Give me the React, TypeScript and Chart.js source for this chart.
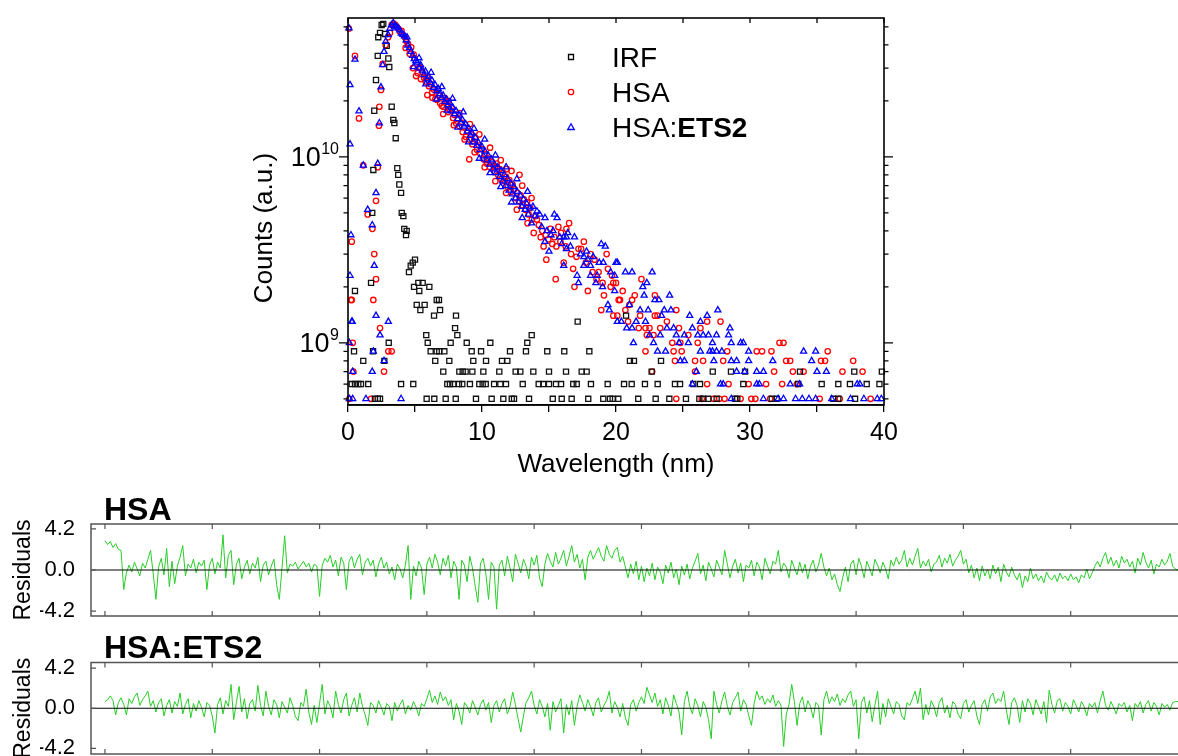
import React, { useEffect, useRef } from 'react';
import { Chart, registerables } from 'chart.js';
Chart.register(...registerables);

const W = 1178;
const H = 756;
const FONT = '"Liberation Sans", Arial, Helvetica, sans-serif';
const COUNT_UNIT = 1e8;

// [time, counts / 1e8]
const irfPoints: [number, number][] = [
  [0.28,6],[0.45,9],[0.52,6],[0.52,19],[0.77,6],[0.97,6],[1.14,8],[1.51,6],[1.72,21],[1.81,50],[1.87,9],[1.89,85],[1.96,177],[2.01,5],[2.09,259],[2.22,5],[2.22,349],[2.26,440],[2.39,464],[2.39,5],[2.51,512],[2.63,519],[2.71,8],[2.76,458],[2.89,395],[3.01,338],[3.04,10],[3.08,304],[3.26,186],[3.38,158],[3.46,152],[3.56,126],[3.68,87],[3.75,80],[3.83,71],[3.96,64],[3.96,6],[4.01,50],[4.13,48],[4.2,41],[4.33,38],[4.38,40],[4.55,24],[4.68,26],[4.83,27],[4.87,6],[4.93,20],[5.0,28],[5.13,16],[5.25,21],[5.32,19],[5.4,15],[5.57,21],[5.72,16],[5.84,11],[5.87,5],[5.95,10],[6.07,20],[6.17,9],[6.42,14],[6.44,5],[6.51,8],[6.62,17],[6.62,9],[6.79,17],[6.81,9],[6.87,15],[7.11,7],[7.19,9],[7.29,5],[7.41,6],[7.56,8],[7.61,6],[7.66,10],[7.86,6],[7.99,12],[8.04,5],[8.06,14],[8.16,11],[8.28,6],[8.31,7],[8.53,6],[8.56,7],[8.78,7],[8.86,10],[9.1,6],[9.23,9],[9.28,7],[9.35,8],[9.55,5],[9.8,6],[9.93,9],[10.05,6],[10.1,7],[10.28,6],[10.3,8],[10.62,10],[10.72,5],[10.9,6],[11.29,7],[11.37,6],[11.49,8],[11.59,5],[11.79,6],[11.89,8],[12.09,9],[12.22,5],[12.39,5],[12.51,7],[12.86,7],[13.04,6],[13.28,9],[13.38,10],[13.51,5],[13.71,11],[13.83,7],[14.23,6],[14.57,6],[14.87,9],[15.0,7],[15.0,6],[15.28,5],[15.52,6],[15.9,6],[15.95,5],[16.14,9],[16.27,7],[16.69,5],[16.81,6],[17.07,6],[17.14,13],[17.44,7],[17.81,7],[17.93,5],[18.01,9],[18.13,6],[19.05,5],[19.38,6],[19.55,5],[19.75,5],[20.17,5],[20.6,6],[20.75,14],[21.04,8],[21.17,6],[21.34,8],[21.66,5],[22.16,6],[22.66,7],[22.96,5],[23.11,6],[23.36,8],[23.98,5],[24.4,6],[24.78,6],[25.22,5],[25.77,6],[26.22,5],[26.27,6],[26.51,5],[26.89,5],[27.22,7],[27.51,5],[28.58,7],[28.88,5],[29.05,5],[29.5,6],[29.63,7],[31.62,5],[31.99,5],[33.6,6],[33.73,7],[35.35,6],[36.22,5],[36.59,6],[36.59,5],[37.46,6],[37.78,7],[37.84,5],[38.71,6],[39.66,6],[39.84,7]
];

const hsaPoints: [number, number][] = [
  [0.07,490],[0.52,349],[0.82,161],[0.28,35],[0.22,17],[0.35,10],[0.4,7],[0.1,5],[1.14,90],[1.47,49],[1.82,41],[1.96,30],[2.09,22],[2.39,12],[2.69,7],[3.01,9],[3.26,9],[1.72,5],[1.89,17],[0.28,17],
  [2.09,58],[2.22,88],[2.31,147],[2.34,186],[2.46,229],[2.59,316],[2.81,400],[2.99,440],[3.13,464],[3.26,512],
  [3.40,520],[3.52,512],[3.64,500],[3.76,488],[3.88,470],[4.00,476],[4.12,452],[4.24,440],[4.36,418],[4.48,405],[4.60,358],[4.72,388],[4.84,300],[4.96,340],[5.08,272],[5.20,282],[5.32,305],[5.44,262],[5.56,285],[5.68,266],[5.80,254],[5.92,215],[6.04,240],[6.16,246],[6.28,222],[6.40,230],[6.52,205],[6.64,203],[6.76,214],[6.88,194],[7.00,188],[7.12,186],[7.24,207],[7.36,192],[7.48,174],[7.60,179],[7.72,184],[7.84,162],[7.96,168],[8.08,151],[8.20,160],[8.32,146],[8.44,153],[8.56,136],[8.68,144],[8.80,128],[8.92,138],[9.04,124],[9.16,132],[9.28,117],[9.40,121],[9.52,126],[9.64,109],[9.76,115],[9.88,104],[10.00,110],[10.12,97],[10.24,103],[10.36,92],[10.48,98],[10.60,88],[10.72,94],[10.84,90],[10.96,83],[11.08,88],[11.20,80],[11.32,86],[11.44,76],[11.56,82],[11.68,74],[11.80,78],[11.92,69],[12.04,75],[12.16,65],[12.28,71],[12.40,67],[12.52,60],[12.64,64],[12.76,58],[12.88,62],[13.00,55],[13.12,59],[13.24,52],[13.36,57],[13.48,49],[13.60,53],[13.72,46],
  [4.3,385],[4.9,355],[5.4,300],[5.9,268],[6.3,208],[6.7,232],[7.1,170],[7.5,200],[7.9,148],[8.3,172],[8.7,124],[9.05,97],[9.1,150],[9.45,106],[9.8,132],[10.2,88],[10.35,96],[10.6,112],[11.0,74],[11.1,92],[11.4,96],[11.8,64],[11.85,86],[12.2,84],[12.6,52],[12.8,80],[13.0,70],[13.4,44],[13.7,60],
  [13.86,39],[13.98,48],[14.1,46],[14.24,43],[14.38,37],[14.5,40],[14.6,33],[14.75,38],[14.8,28],[14.95,36],[15.1,41],[15.25,34],[15.4,37],[15.5,22],[15.55,33],[15.7,42],[15.85,35],[15.9,39],[16.1,27],[16.25,33],[16.3,41],[16.5,44],[16.65,30],[16.8,25],[16.9,20],[17.05,29],[17.2,32],[17.4,32],[17.6,35],[17.75,27],[17.9,19],[18.1,30],[18.25,24],[18.4,28],[18.55,22],[18.7,24],[18.9,15],[19.0,21],[19.1,18],[19.3,30],[19.4,25],[19.6,20],[19.7,23],[19.8,21],[19.8,14],[20.0,21],
  [20.2,17],[20.3,17],[21.2,17],[20.7,15],[24.5,15],[20.1,14],[21.8,14],[22.9,14],[23.1,14],[22.9,18],[21.9,22],[20.5,19],[21.0,16],[21.4,18],[20.9,13],
  [23.8,13],[26.8,13],[27.8,13],[21.7,12],[22.2,12],[22.5,12],[23.3,12],[24.7,12],[26.3,12],[22.3,11],[22.8,11],[25.4,11],
  [24.2,10],[24.8,10],[26.1,10],[32.2,10],[32.5,10],[22.2,9],[24.3,9],[24.9,9],[28.3,9],[30.5,9],[30.9,9],[31.6,9],[35.8,9],
  [24.4,8],[25.9,8],[26.5,8],[28.0,8],[32.7,8],[33.0,8],[35.3,8],[35.6,8],[37.7,8],[22.7,7],[25.9,7],[31.8,7],[33.2,7],[34.0,7],[36.9,7],[38.4,7],
  [26.8,6],[28.4,6],[29.9,6],[31.2,6],[32.4,6],[33.5,6],[24.5,5],[26.4,5],[27.3,5],[27.7,5],[28.1,5],[29.3,5],[30.1,5],[30.4,5],[31.5,5],[35.2,5],[36.7,5],[39.0,5]
];

const ets2Points: [number, number][] = [
  [0.07,492],[0.52,334],[0.82,176],[0.15,244],[0.15,117],[0.22,38],[0.15,23],[0.32,13],[0.28,13],[0.1,10],[0.35,7],[0.1,5],[0.35,5],[1.14,90],[1.47,52],[1.81,43],[1.96,26],[2.09,14],[2.39,11],[2.69,8],[3.01,13],[1.89,9],[1.81,7],[1.34,5],[3.96,5],
  [2.09,64],[2.22,92],[2.34,152],[2.46,237],[2.59,312],[2.69,368],[2.81,417],[3.00,453],[3.12,490],[3.25,512],
  [3.38,526],[3.50,505],[3.62,498],[3.74,492],[3.86,480],[3.98,462],[4.10,455],[4.22,446],[4.34,425],[4.46,398],[4.58,385],[4.70,368],[4.82,350],[4.94,336],[5.06,328],[5.18,322],[5.30,300],[5.42,312],[5.54,292],[5.66,276],[5.78,288],[5.90,262],[6.02,270],[6.14,250],[6.26,258],[6.38,236],[6.50,244],[6.62,226],[6.74,232],[6.86,218],[6.98,208],[7.10,214],[7.22,198],[7.34,204],[7.46,190],[7.58,196],[7.70,176],[7.82,184],[7.94,170],[8.06,177],[8.18,160],[8.30,167],[8.42,152],[8.54,158],[8.66,146],[8.78,150],[8.90,137],[9.02,142],[9.14,130],[9.26,134],[9.38,120],[9.50,127],[9.62,115],[9.74,119],[9.86,109],[9.98,114],[10.10,101],[10.22,107],[10.34,96],[10.46,102],[10.58,91],[10.70,97],[10.82,86],[10.94,91],[11.06,82],[11.18,88],[11.30,78],[11.42,84],[11.54,74],[11.66,80],[11.78,70],[11.90,76],[12.02,66],[12.14,72],[12.26,63],[12.38,69],[12.50,60],[12.62,65],[12.74,57],[12.86,62],[12.98,54],[13.10,59],[13.22,52],[13.34,56],[13.46,49],[13.58,53],
  [4.4,440],[4.9,305],[5.3,340],[5.8,246],[6.2,284],[6.6,204],[7.0,238],[7.4,178],[7.8,206],[8.2,144],[8.6,174],[9.0,120],[9.4,142],[9.8,98],[10.2,124],[10.6,82],[11.0,102],[11.4,69],[11.8,88],[12.2,57],[12.6,76],[13.0,47],[13.4,65],[13.8,54],
  [13.7,44],[13.95,48],[14.1,51],[14.3,49],[14.45,42],[14.7,47],[14.7,35],[14.85,40],[15.0,31],[15.15,38],[15.3,40],[15.4,49],[15.6,47],[15.8,37],[15.95,34],[16.1,37],[16.1,26],[16.3,37],[16.3,32],[16.4,39],[16.6,33],[16.9,37],[17.1,23],[17.2,21],[17.35,30],[17.6,29],[17.6,26],[17.8,31],[17.9,28],[18.1,26],[18.1,23],[18.3,29],[18.5,21],[18.6,23],[18.75,27],[18.9,34],[19.0,20],[19.05,27],[19.2,33],[19.4,16],[19.5,15],[19.6,24],[19.9,19],[19.9,23],[20.0,27],[20.1,27],
  [20.7,24],[21.2,24],[22.7,24],[22.3,21],[22.0,20],[22.1,18],[24.0,18],[22.9,17],[23.2,17],[21.0,16],[21.8,15],[22.4,15],[23.6,15],[24.1,15],[27.6,15],[23.4,14],[25.5,14],[26.8,14],
  [20.1,13],[20.4,13],[21.5,13],[22.2,13],[26.3,13],[20.8,12],[21.2,12],[23.8,12],[24.3,12],[25.7,12],[28.5,12],
  [22.5,11],[23.3,11],[24.5,11],[25.1,11],[26.1,11],[26.5,11],[26.9,11],[27.5,11],[28.4,11],[21.3,10],[22.8,10],[24.7,10],[25.4,10],[27.2,10],[28.6,10],[29.3,10],[29.5,10],
  [23.1,9],[23.7,9],[26.3,9],[27.0,9],[27.2,9],[27.5,9],[27.9,9],[29.9,9],[34.0,9],[34.9,9],[24.8,8],[25.1,8],[27.3,8],[28.6,8],[29.0,8],[29.9,8],[31.7,8],[34.6,8],
  [26.0,7],[29.0,7],[29.6,7],[30.5,7],[31.0,7],[35.0,7],[35.7,7],[25.7,6],[27.8,6],[28.0,6],[30.5,6],[30.7,6],[33.0,6],[33.7,6],[38.0,6],[38.2,6],
  [28.6,5],[31.0,5],[32.1,5],[32.5,5],[33.4,5],[33.9,5],[34.4,5],[34.9,5],[36.1,5],[37.5,5],[38.5,5],[39.5,5],[39.8,5]
];

const RES_STEP = 0.125;
const hsaResiduals: number[] = [
  3.0,2.6,2.9,2.3,2.7,2.1,2.0,-2.0,-0.3,0.5,-0.2,0.8,0.1,-0.6,0.7,0.2,1.1,2.0,-0.4,-3.0,
  0.3,1.2,-0.5,2.2,-1.7,0.9,-1.4,0.4,1.3,2.5,-0.6,0.6,0.2,1.1,-0.3,0.8,0.4,1.0,-2.0,0.5,
  1.2,-0.4,0.8,0.2,3.6,-0.8,1.5,2.0,-1.5,0.6,1.2,-0.9,0.3,1.0,-0.4,0.7,0.2,1.3,-1.2,0.5,
  0.9,-0.5,0.4,1.1,-1.5,-3.0,0.2,3.5,-0.3,0.6,0.4,0.8,0.1,0.5,0.9,0.3,0.7,-0.2,0.6,0.4,
  -2.7,0.5,1.2,0.8,1.5,0.3,1.0,-0.6,1.3,0.7,-2.0,0.9,1.4,0.2,1.1,1.6,-0.5,0.8,1.2,0.4,
  1.0,-0.7,0.6,1.3,0.2,0.8,-0.4,0.3,-1.0,0.6,0.1,-0.8,0.5,2.5,-3.0,0.4,-0.6,0.9,0.2,-2.5,
  0.6,1.3,0.2,1.6,0.8,-0.5,1.2,0.4,1.5,-0.8,0.9,0.3,-3.0,1.0,0.5,-1.2,1.4,0.2,-1.6,-3.3,
  0.7,1.2,-0.4,-3.0,0.8,0.3,-4.0,0.5,1.0,-0.6,1.4,0.2,-1.2,1.6,0.7,-0.3,1.1,0.4,-0.9,1.3,
  0.5,1.5,-0.8,-1.7,0.6,1.7,0.9,0.3,1.8,0.6,1.2,2.0,0.4,1.4,2.5,0.8,1.6,0.2,1.1,-1.0,
  1.3,2.0,1.1,1.7,2.3,1.4,0.9,2.5,1.6,1.2,2.0,2.3,0.8,1.4,0.3,-0.8,0.6,-0.4,0.9,-1.0,
  0.4,-1.2,0.2,-0.6,0.7,-1.0,0.3,-0.2,-1.4,0.5,-0.3,0.8,-0.8,0.1,-1.5,0.4,-0.5,0.6,-0.9,0.2,
  0.9,1.7,-0.4,0.5,-1.1,0.8,0.1,-0.7,1.0,0.3,-0.5,2.0,0.6,-0.8,0.4,1.1,-0.3,0.7,-1.2,0.5,
  0.2,1.0,-0.6,0.8,0.3,-1.0,1.2,0.4,-0.4,0.9,0.6,2.0,-0.2,0.7,0.3,-0.8,1.0,0.2,-0.5,0.8,
  -0.3,0.6,-0.9,0.4,1.0,-0.2,0.5,1.7,0.3,-0.6,0.2,-1.0,-0.4,-1.5,-2.2,-0.8,0.3,-1.2,0.6,1.0,
  -0.5,1.2,0.4,-0.8,0.9,0.2,-0.6,1.1,0.5,-0.3,0.8,0.1,-0.9,1.0,0.4,1.3,0.6,1.0,2.0,0.3,
  1.2,0.5,1.4,2.2,0.2,0.9,0.4,1.1,-0.2,0.6,0.8,1.5,0.3,1.2,0.7,1.6,0.4,1.0,1.4,2.0,
  0.6,1.1,-0.3,0.5,-0.8,0.2,-1.1,0.4,-0.6,0.1,-0.9,0.5,-0.4,0.3,-1.2,0.6,-0.2,-0.7,0.3,-0.5,
  -1.0,-0.3,-1.8,-0.6,-1.2,0.2,-0.9,-0.4,-1.1,-0.6,-1.3,-0.2,-0.8,-1.0,-0.5,-1.2,-0.3,-0.9,-0.6,-1.1,
  -0.4,-1.0,-0.7,-1.3,-0.5,-0.8,0.1,-0.9,-0.3,0.4,0.9,0.3,1.2,1.8,0.6,1.3,0.4,1.0,0.2,1.4,
  0.7,1.1,0.3,0.9,-0.3,1.2,0.5,1.8,0.8,0.2,1.0,-0.4,0.6,0.3,1.1,0.5,0.9,1.7,0.4,0.1,
  0.0
];

const ets2Residuals: number[] = [
  0.7,0.9,1.3,0.8,-0.7,0.6,1.1,0.4,-0.7,1.0,0.5,1.2,1.6,0.3,0.9,1.3,1.8,0.2,0.8,-0.4,
  0.6,1.0,-0.8,0.3,0.9,-0.5,0.7,0.2,1.6,-0.6,0.4,1.0,-1.0,0.5,-0.3,0.8,0.1,-0.9,0.6,0.3,
  -0.8,-2.6,0.4,1.1,-0.6,0.8,0.2,2.5,-1.2,0.6,2.3,-0.4,1.0,-1.1,0.5,0.9,-0.3,2.4,0.3,-0.8,
  1.8,0.2,-0.7,0.9,0.4,-1.0,0.7,0.1,-0.5,1.1,0.3,-0.9,-1.3,0.6,0.2,2.0,-0.4,-1.7,0.3,-1.5,
  0.5,2.5,-0.6,0.8,0.2,-1.0,1.8,0.4,-0.5,0.9,1.6,-0.8,0.3,1.1,-0.4,1.6,0.2,-0.7,-1.8,0.6,
  0.3,-0.5,0.8,0.1,-0.7,0.5,0.2,-1.3,0.6,-0.3,0.4,0.9,-0.6,0.3,-0.2,0.7,0.1,-0.8,0.5,0.2,
  1.0,1.9,0.6,1.3,0.4,1.7,0.8,1.2,0.3,0.9,-1.2,0.5,-0.3,-1.7,0.6,0.2,-0.5,0.8,0.1,-0.7,
  0.4,0.9,-0.2,0.6,-1.5,0.3,0.8,-0.4,0.5,1.0,-0.6,0.2,1.7,0.4,-1.1,-2.5,-0.8,0.6,1.1,1.8,
  0.3,-0.6,0.9,0.2,-0.9,0.5,-2.3,0.7,-0.4,0.3,1.0,-2.6,0.4,-0.7,0.8,-1.8,0.2,1.4,0.6,-0.3,
  0.9,0.2,-0.8,0.6,1.1,-0.4,0.3,0.8,1.8,-0.5,0.7,0.1,-0.9,0.5,-1.0,-1.8,0.4,0.9,-0.3,0.6,
  1.2,0.5,2.2,1.4,0.6,1.6,0.2,0.9,-0.6,1.1,0.3,-0.8,1.4,0.5,-0.4,-2.8,0.7,1.8,0.2,-0.6,
  1.0,0.3,-0.9,0.7,0.1,-1.2,-3.2,1.8,0.4,-0.5,0.8,1.7,0.2,-0.7,0.6,1.1,1.7,-0.3,0.9,0.4,
  -0.8,-1.8,0.5,1.8,0.9,1.3,0.4,1.0,0.6,1.4,0.2,0.8,0.3,-4.0,-0.6,0.4,2.5,0.7,-1.8,0.5,
  1.2,-0.4,0.8,0.2,-1.0,0.6,0.3,-2.8,0.9,1.8,0.5,1.2,0.7,1.5,0.3,1.0,0.6,1.4,1.8,0.2,
  0.9,-3.2,0.6,1.2,-0.5,0.8,-1.4,0.3,1.8,-1.7,0.5,-0.9,1.0,0.2,-0.6,0.7,0.4,-0.8,-1.2,0.6,
  0.3,1.0,1.8,0.5,2.1,-1.2,0.4,-0.7,0.8,0.2,-0.9,0.6,1.1,-0.5,0.3,-1.0,0.7,0.4,-0.6,-1.1,
  0.5,0.9,-0.4,0.3,0.8,-0.8,-1.7,0.4,0.9,-0.3,1.2,1.6,0.5,1.0,0.7,1.8,-0.2,-1.7,0.6,1.1,
  0.3,-1.5,0.8,-0.4,1.0,0.5,-0.7,0.9,0.2,-0.6,0.7,-1.5,1.9,0.4,-0.5,0.8,1.0,-0.3,0.6,0.2,
  -0.6,0.9,0.3,-0.4,0.7,0.2,-0.8,0.5,0.1,0.6,-0.5,0.8,1.8,0.3,-0.2,0.7,0.1,-0.6,0.5,0.2,
  0.6,-0.4,0.3,-1.3,0.5,0.1,0.7,-0.5,0.4,0.8,-0.3,0.6,0.2,-0.7,0.5,0.1,0.4,-0.2,0.6,0.7,
  0.7
];

const mainXTicks = [0, 5, 10, 15, 20, 25, 30, 35, 40];
const logMajorTicks = [1e9, 1e10];
const logMinorTicks = [5e8, 6e8, 7e8, 8e8, 9e8, 2e9, 3e9, 4e9, 5e9, 6e9, 7e9, 8e9, 9e9, 2e10, 3e10, 4e10, 5e10];
const residualTicks = [-4.2, 0, 4.2];
const residualXTicks = [0, 5, 10, 15, 20, 25, 30, 35, 40, 45];

const BLACK = '#000000';
const RED = '#ff0000';
const BLUE = '#0000ff';
const GREEN = 'rgb(40,205,40)';

function toXY(pts: [number, number][]) {
  return pts.map(([t, n]) => ({ x: t, y: n * COUNT_UNIT }));
}

function drawMarker(ctx: CanvasRenderingContext2D, kind: string, x: number, y: number, color: string) {
  ctx.save();
  ctx.strokeStyle = color;
  ctx.lineWidth = 1.3;
  ctx.beginPath();
  if (kind === 'rect') ctx.rect(x - 2.5, y - 2.5, 5, 5);
  else if (kind === 'circle') ctx.arc(x, y, 2.7, 0, Math.PI * 2);
  else { ctx.moveTo(x, y - 3.3); ctx.lineTo(x + 3.3, y + 2.5); ctx.lineTo(x - 3.3, y + 2.5); ctx.closePath(); }
  ctx.stroke();
  ctx.restore();
}

const mainDecor = {
  id: 'mainDecor',
  afterDraw(chart: any) {
    const { ctx, chartArea: a, scales } = chart;
    const ys = scales.y, xs = scales.x;
    ctx.save();
    ctx.strokeStyle = BLACK;
    ctx.lineWidth = 1.6;
    ctx.strokeRect(a.left, a.top, a.right - a.left, a.bottom - a.top);
    ctx.lineWidth = 1.3;
    ctx.beginPath();
    for (const v of logMinorTicks) {
      const p = ys.getPixelForValue(v);
      ctx.moveTo(a.left - 4.5, p); ctx.lineTo(a.left, p);
      ctx.moveTo(a.right, p); ctx.lineTo(a.right + 4.5, p);
    }
    for (const v of logMajorTicks) {
      const p = ys.getPixelForValue(v);
      ctx.moveTo(a.left - 9, p); ctx.lineTo(a.left, p);
      ctx.moveTo(a.right, p); ctx.lineTo(a.right + 9, p);
    }
    for (const v of mainXTicks) {
      const p = xs.getPixelForValue(v);
      ctx.moveTo(p, a.top); ctx.lineTo(p, a.top + 5);
    }
    ctx.stroke();
    // y labels 10^n
    ctx.fillStyle = BLACK;
    ctx.textBaseline = 'alphabetic';
    ctx.textAlign = 'left';
    for (const v of logMajorTicks) {
      const p = ys.getPixelForValue(v);
      const exp = String(Math.round(Math.log10(v)));
      ctx.font = `16px ${FONT}`;
      const sw = ctx.measureText(exp).width;
      ctx.font = `27px ${FONT}`;
      const mw = ctx.measureText('10').width;
      const right = 339;
      ctx.fillText('10', right - sw - mw - 0.5, p + 9.5);
      ctx.font = `16px ${FONT}`;
      ctx.fillText(exp, right - sw, p - 3);
    }
    // axis titles
    ctx.font = `26px ${FONT}`;
    ctx.textAlign = 'center';
    ctx.textBaseline = 'middle';
    ctx.fillText('Wavelength (nm)', (a.left + a.right) / 2, 465);
    ctx.save();
    ctx.translate(265, 228);
    ctx.rotate(-Math.PI / 2);
    ctx.fillText('Counts (a.u.)', 0, 0);
    ctx.restore();
    // legend
    const ds = chart.data.datasets;
    const legendRows = [
      { kind: 'rect', color: BLACK, y: 57, label: ds[1].label },
      { kind: 'circle', color: RED, y: 92, label: ds[2].label },
      { kind: 'triangle', color: BLUE, y: 127, label: ds[0].label },
    ];
    ctx.textAlign = 'left';
    ctx.textBaseline = 'alphabetic';
    for (const r of legendRows) {
      drawMarker(ctx, r.kind, 571, r.y, r.color);
      const parts = String(r.label).split(':');
      ctx.font = `28px ${FONT}`;
      if (parts.length === 2) {
        const first = parts[0] + ':';
        ctx.fillText(first, 612, r.y + 10);
        const w = ctx.measureText(first).width;
        ctx.font = `bold 28px ${FONT}`;
        ctx.fillText(parts[1], 612 + w, r.y + 10);
      } else {
        ctx.fillText(parts[0], 612, r.y + 10);
      }
    }
    ctx.restore();
  },
};

function mainConfig(): any {
  const common = { showLine: false, borderWidth: 1.3, backgroundColor: 'rgba(0,0,0,0)', clip: false };
  return {
    type: 'scatter',
    data: {
      datasets: [
        { ...common, label: 'HSA:ETS2', data: toXY(ets2Points), pointStyle: 'triangle', pointRadius: 3.5, borderColor: BLUE, order: 0 },
        { ...common, label: 'IRF', data: toXY(irfPoints), pointStyle: 'rect', pointRadius: 3.6, borderColor: '#111', order: 1 },
        { ...common, label: 'HSA', data: toXY(hsaPoints), pointStyle: 'circle', pointRadius: 2.7, borderColor: RED, order: 2 },
      ],
    },
    options: {
      animation: false,
      responsive: false,
      events: [],
      layout: { padding: { left: 348, right: W - 884, top: 18, bottom: H - 405 - 60 } },
      plugins: { legend: { display: false }, tooltip: { enabled: false } },
      scales: {
        x: {
          type: 'linear', min: 0, max: 40,
          afterBuildTicks: (s: any) => { s.ticks = mainXTicks.map((v) => ({ value: v })); },
          afterFit: (s: any) => { s.height = 60; },
          ticks: { autoSkip: false, maxRotation: 0, color: BLACK, font: { family: FONT, size: 25 }, padding: 6,
            callback: (v: any) => (Number(v) % 10 === 0 ? String(v) : '') },
          grid: { drawOnChartArea: false, tickLength: 7, color: BLACK, lineWidth: 1.3 },
          border: { color: BLACK, width: 1.6 },
        },
        y: { type: 'logarithmic', min: 4.63e8, max: 5.58e10, display: false },
      },
    },
    plugins: [mainDecor],
  };
}

function residualConfig(values: number[], top: number, bottom: number, range: number, title: string): any {
  const decor = {
    id: 'resDecor',
    afterDraw(chart: any) {
      const { ctx, chartArea: a, scales } = chart;
      const ys = scales.y, xs = scales.x;
      ctx.save();
      const z = ys.getPixelForValue(0);
      ctx.strokeStyle = BLACK;
      ctx.lineWidth = 1;
      ctx.beginPath();
      ctx.moveTo(a.left, z); ctx.lineTo(a.right, z);
      ctx.stroke();
      ctx.strokeStyle = '#555';
      ctx.lineWidth = 1.5;
      ctx.beginPath();
      ctx.moveTo(a.right + 2, a.top); ctx.lineTo(a.left, a.top); ctx.lineTo(a.left, a.bottom); ctx.lineTo(a.right + 2, a.bottom);
      ctx.stroke();
      ctx.lineWidth = 1.2;
      ctx.beginPath();
      for (const v of residualXTicks) {
        const p = xs.getPixelForValue(v);
        ctx.moveTo(p, a.top); ctx.lineTo(p, a.top + 5);
        ctx.moveTo(p, a.bottom); ctx.lineTo(p, a.bottom - 5);
      }
      for (const v of residualTicks) {
        const p = ys.getPixelForValue(v);
        ctx.moveTo(a.left, p); ctx.lineTo(a.left + 5, p);
      }
      ctx.stroke();
      ctx.fillStyle = BLACK;
      ctx.font = `bold 32px ${FONT}`;
      ctx.textAlign = 'left';
      ctx.textBaseline = 'alphabetic';
      ctx.fillText(title, 104, a.top - 4.5);
      ctx.font = `23px ${FONT}`;
      ctx.textAlign = 'center';
      ctx.textBaseline = 'middle';
      ctx.save();
      ctx.translate(24, z);
      ctx.rotate(-Math.PI / 2);
      ctx.fillText('Residuals', 0, 0);
      ctx.restore();
      ctx.restore();
    },
  };
  return {
    type: 'line',
    data: {
      datasets: [{
        data: values.map((v, i) => ({ x: i * RES_STEP, y: v })),
        borderColor: GREEN, borderWidth: 1, pointRadius: 0, tension: 0, fill: false,
      }],
    },
    options: {
      animation: false,
      responsive: false,
      events: [],
      layout: { padding: { left: 40, right: 0, top, bottom: H - bottom } },
      plugins: { legend: { display: false }, tooltip: { enabled: false } },
      scales: {
        x: { type: 'linear', min: -0.65, max: 50, display: false },
        y: {
          type: 'linear', min: -range, max: range,
          afterBuildTicks: (s: any) => { s.ticks = residualTicks.map((v) => ({ value: v })); },
          afterFit: (s: any) => { s.width = 51; s.paddingTop = 0; s.paddingBottom = 0; },
          ticks: { color: BLACK, font: { family: FONT, size: 22 }, padding: 8, callback: (v: any) => Number(v).toFixed(1) },
          grid: { display: false },
          border: { display: false },
        },
      },
    },
    plugins: [decor],
  };
}

export default function App() {
  const c1 = useRef<HTMLCanvasElement>(null);
  const c2 = useRef<HTMLCanvasElement>(null);
  const c3 = useRef<HTMLCanvasElement>(null);
  useEffect(() => {
    Chart.defaults.font.family = FONT;
    const charts = [
      new Chart(c1.current as HTMLCanvasElement, mainConfig()),
      new Chart(c2.current as HTMLCanvasElement, residualConfig(hsaResiduals, 524, 616, 4.7, 'HSA')),
      new Chart(c3.current as HTMLCanvasElement, residualConfig(ets2Residuals, 662.5, 754, 4.8, 'HSA:ETS2')),
    ];
    return () => charts.forEach((c) => c.destroy());
  }, []);
  const cs: React.CSSProperties = { position: 'absolute', left: 0, top: 0 };
  return (
    <div style={{ position: 'absolute', left: 0, top: 0, width: W, height: H, background: '#fff', overflow: 'hidden' }}>
      <canvas ref={c1} width={W} height={H} style={cs} />
      <canvas ref={c2} width={W} height={H} style={cs} />
      <canvas ref={c3} width={W} height={H} style={cs} />
    </div>
  );
}
